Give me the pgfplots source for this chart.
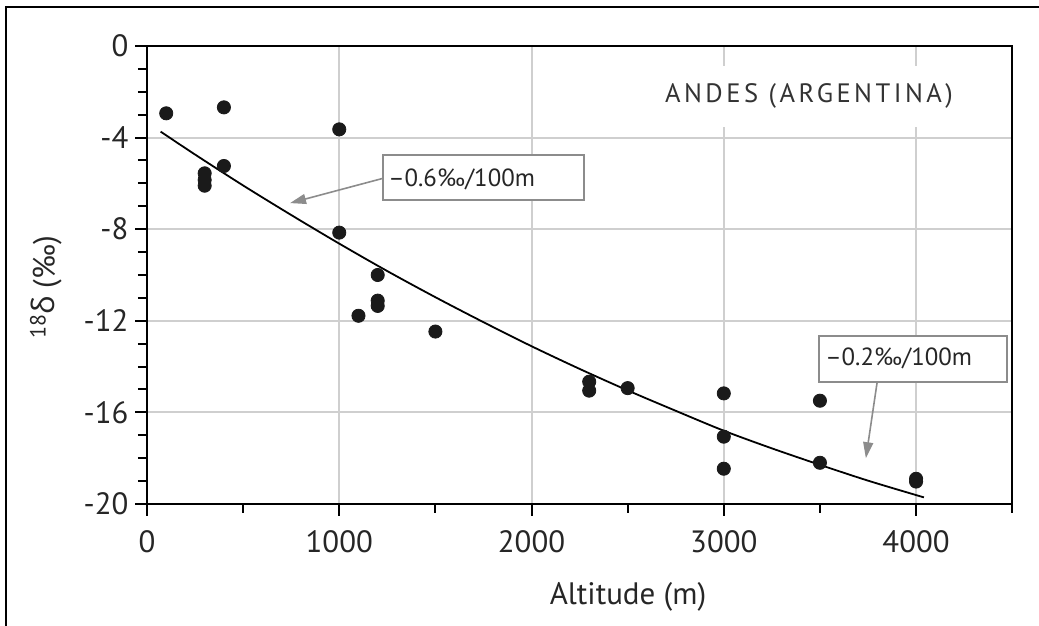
\documentclass[border=0pt]{standalone}
\usepackage{fontspec}
\setmainfont{PT Sans}
\newfontfamily\greekfont{Open Sans}
\newfontfamily\spacedfont[LetterSpace=13]{PT Sans}
\usepackage{pgfplots}
\pgfplotsset{compat=1.18}
\usetikzlibrary{arrows.meta}
\definecolor{dotc}{HTML}{1A1A1A}
\definecolor{gridc}{HTML}{CFCFCF}
\definecolor{boxc}{HTML}{8C8C8C}

\pgfplotstableread{
x y
100 -2.94
400 -2.68
300 -5.56
300 -5.85
300 -6.10
400 -5.24
1000 -3.64
1000 -8.15
1100 -11.78
1200 -10.00
1200 -11.12
1200 -11.35
1500 -12.47
2300 -14.66
2300 -15.05
2500 -14.94
3000 -15.17
3000 -17.06
3000 -18.46
3500 -15.49
3500 -18.20
4000 -18.90
4000 -19.02
}\obsdata

\pgfplotstableread{
x y
71 -3.74
250 -4.74
500 -6.09
750 -7.38
1000 -8.63
1250 -9.83
1500 -10.97
1750 -12.06
2000 -13.11
2250 -14.10
2500 -15.04
2750 -15.93
3000 -16.80
3250 -17.57
3500 -18.29
3750 -18.98
4000 -19.61
4041 -19.71
}\fitdata

\begin{document}
\begin{tikzpicture}
\useasboundingbox (-73.5pt,-61pt) rectangle (446pt,252pt);
\draw[line width=1pt,black] (-70.3pt,-62pt) -- (-70.3pt,248.5pt) -- (447pt,248.5pt);
\begin{axis}[
  at={(0pt,0pt)}, anchor=south west,
  scale only axis, width=432.6pt, height=229pt,
  xmin=0, xmax=4500, ymin=-20, ymax=0,
  xtick={0,1000,2000,3000,4000},
  minor xtick={500,1500,2500,3500,4500},
  ytick={0,-4,-8,-12,-16,-20},
  minor ytick={-1,-2,-3,-5,-6,-7,-9,-10,-11,-13,-14,-15,-17,-18,-19},
  tick pos=left,
  tick align=outside,
  major tick length=5.8pt, minor tick length=4.5pt,
  every tick/.style={black, line width=1pt},
  axis line style={black, line width=1pt},
  grid=major, major grid style={gridc, line width=1pt},
  ticklabel style={font=\fontsize{15.4}{18}\selectfont, text=black!85},
  xticklabel style={yshift=-4pt},
  /pgf/number format/assume math mode=true,
  /pgf/number format/set thousands separator={},
  clip=false,
]
\addplot[no marks, black, line width=0.9pt, smooth] table[x=x,y=y] {\fitdata};
\addplot[only marks, mark=*, mark size=3.3pt, mark options={fill=dotc, draw=dotc}] table[x=x,y=y] {\obsdata};

\node[fill=white, inner xsep=10pt, inner ysep=9pt, text=black!80, font=\spacedfont\fontsize{13.3}{15}\selectfont] at (axis cs:3443,-2.2) {ANDES (ARGENTINA)};

\draw[boxc, line width=0.8pt, -{Triangle[length=8pt,width=5pt]}] (axis cs:1227,-5.78) -- (axis cs:744,-6.86);
\draw[boxc, line width=1pt, fill=white] (axis cs:1227,-4.76) rectangle (axis cs:2272,-6.72);
\node[anchor=base west, inner sep=0pt, text=black!85, font=\fontsize{12.4}{15}\selectfont] at (axis cs:1253,-6.14) {–0.6‰/100m};

\draw[boxc, line width=0.8pt, -{Triangle[length=8pt,width=5pt]}] (axis cs:3798,-14.66) -- (axis cs:3739,-18.0);
\draw[boxc, line width=1pt, fill=white] (axis cs:3495,-12.65) rectangle (axis cs:4473,-14.66);
\node[anchor=base west, inner sep=0pt, text=black!85, font=\fontsize{12.4}{15}\selectfont] at (axis cs:3526,-13.96) {–0.2‰/100m};
\end{axis}
\node[anchor=base, inner sep=0pt, text=black!85, font=\fontsize{15.5}{18}\selectfont] at (240.5pt,-50.5pt) {Altitude (m)};
\node[anchor=base, rotate=90, inner sep=0pt, text=black!85, font=\fontsize{15.5}{18}\selectfont] at (-46pt,108.5pt) {\raisebox{0.6ex}{\fontsize{11}{12}\selectfont 18}{\greekfont δ} (‰)};
\end{tikzpicture}
\end{document}
